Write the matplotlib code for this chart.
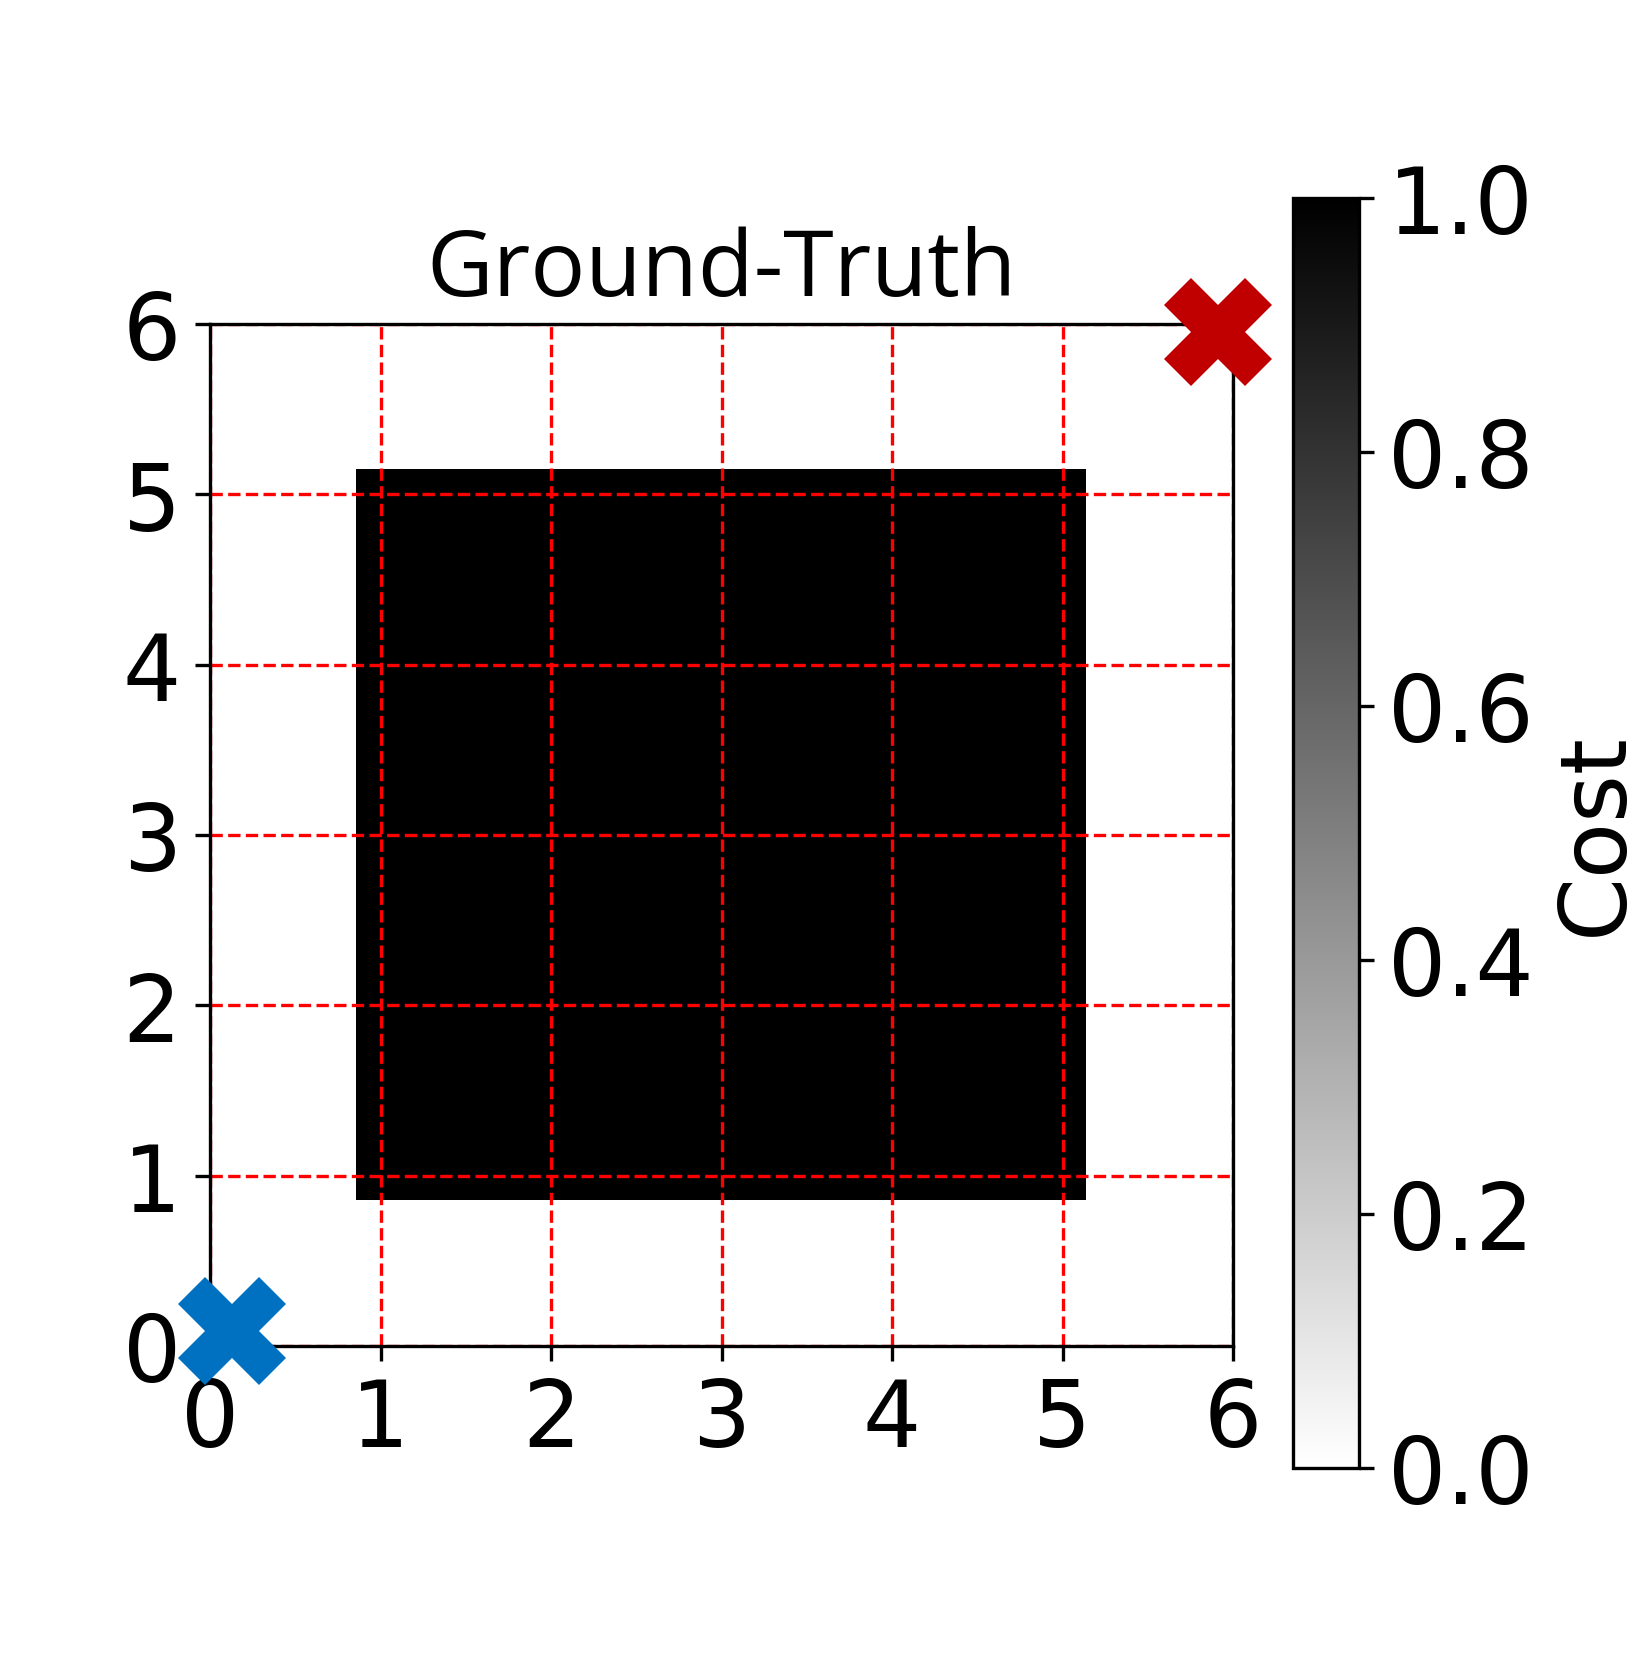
import numpy as np
import matplotlib
matplotlib.use("Agg")
import matplotlib.pyplot as plt

# Cost grid (7x7 cells spanning 0..6), 1 = obstacle
cost = [
    [0, 0, 0, 0, 0, 0, 0],
    [0, 1, 1, 1, 1, 1, 0],
    [0, 1, 1, 1, 1, 1, 0],
    [0, 1, 1, 1, 1, 1, 0],
    [0, 1, 1, 1, 1, 1, 0],
    [0, 1, 1, 1, 1, 1, 0],
    [0, 0, 0, 0, 0, 0, 0],
]
start = (0.13, 0.09)
goal = (5.91, 5.95)
ticks = [0, 1, 2, 3, 4, 5, 6]
cbar_ticks = [0.0, 0.2, 0.4, 0.6, 0.8, 1.0]
title = "Ground-Truth"
cbar_label = "Cost"

fig = plt.figure(figsize=(5.5, 5.513), dpi=300)
ax = fig.add_axes([0.1273, 0.1856, 0.62, 0.618])
im = ax.imshow(np.array(cost), cmap="gray_r", vmin=0, vmax=1, origin="lower",
               extent=[0, 6, 0, 6], interpolation="nearest", aspect="auto")
ax.set_xlim(0, 6)
ax.set_ylim(0, 6)
ax.set_xticks(ticks)
ax.set_yticks(ticks)
ax.tick_params(labelsize=22)
ax.grid(True, color="red", linestyle="--", linewidth=0.8)
ax.set_axisbelow(False)
for s in ax.spines.values():
    s.set_zorder(3)
ax.plot([start[0]], [start[1]], marker="X", ms=26, color="#0070C0",
        linestyle="none", clip_on=False, zorder=5, markeredgewidth=0)
ax.plot([goal[0]], [goal[1]], marker="X", ms=26, color="#C00000",
        linestyle="none", clip_on=False, zorder=5, markeredgewidth=0)
ax.set_title(title, fontsize=22, family="Open Sans", pad=7)

cax = fig.add_axes([0.7836, 0.1118, 0.04, 0.768])
cb = fig.colorbar(im, cax=cax, ticks=cbar_ticks)
cb.ax.tick_params(labelsize=22)
cb.set_label(cbar_label, fontsize=22)

fig.savefig("out.png", dpi=300)
